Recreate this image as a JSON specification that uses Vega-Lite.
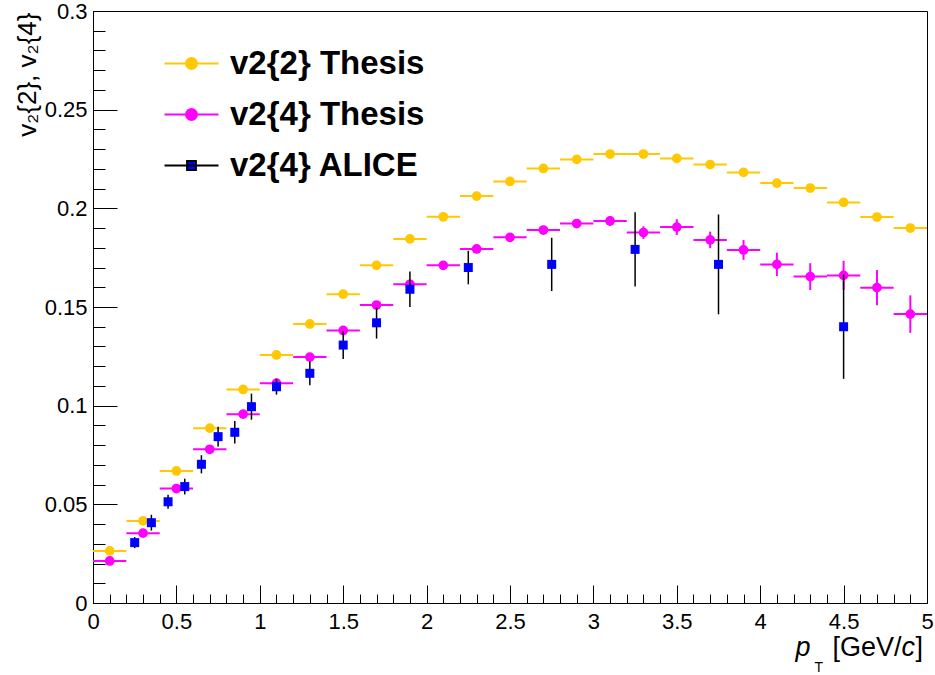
{
  "$schema": "https://vega.github.io/schema/vega-lite/v6.json",
  "width": 834,
  "height": 592,
  "autosize": "none",
  "padding": {"left": 93, "top": 11, "right": 8, "bottom": 72},
  "background": "white",
  "config": {
    "view": {"stroke": "black", "strokeWidth": 1},
    "font": "Liberation Sans",
    "axis": {"grid": false, "domainColor": "black", "tickColor": "black", "labelColor": "black", "titleColor": "black", "domainWidth": 1, "tickWidth": 1}
  },
  "data": {"values": [
    {"series": "v2{2} Thesis", "pt": 0.1, "v": 0.0264, "xlo": 0.0, "xhi": 0.2},
    {"series": "v2{2} Thesis", "pt": 0.3, "v": 0.0416, "xlo": 0.2, "xhi": 0.4},
    {"series": "v2{2} Thesis", "pt": 0.5, "v": 0.0669, "xlo": 0.4, "xhi": 0.6},
    {"series": "v2{2} Thesis", "pt": 0.7, "v": 0.0886, "xlo": 0.6, "xhi": 0.8},
    {"series": "v2{2} Thesis", "pt": 0.9, "v": 0.1082, "xlo": 0.8, "xhi": 1.0},
    {"series": "v2{2} Thesis", "pt": 1.1, "v": 0.1257, "xlo": 1.0, "xhi": 1.2},
    {"series": "v2{2} Thesis", "pt": 1.3, "v": 0.1414, "xlo": 1.2, "xhi": 1.4},
    {"series": "v2{2} Thesis", "pt": 1.5, "v": 0.1565, "xlo": 1.4, "xhi": 1.6},
    {"series": "v2{2} Thesis", "pt": 1.7, "v": 0.1711, "xlo": 1.6, "xhi": 1.8},
    {"series": "v2{2} Thesis", "pt": 1.9, "v": 0.1845, "xlo": 1.8, "xhi": 2.0},
    {"series": "v2{2} Thesis", "pt": 2.1, "v": 0.1957, "xlo": 2.0, "xhi": 2.2},
    {"series": "v2{2} Thesis", "pt": 2.3, "v": 0.2062, "xlo": 2.2, "xhi": 2.4},
    {"series": "v2{2} Thesis", "pt": 2.5, "v": 0.2136, "xlo": 2.4, "xhi": 2.6},
    {"series": "v2{2} Thesis", "pt": 2.7, "v": 0.2202, "xlo": 2.6, "xhi": 2.8},
    {"series": "v2{2} Thesis", "pt": 2.9, "v": 0.2248, "xlo": 2.8, "xhi": 3.0},
    {"series": "v2{2} Thesis", "pt": 3.1, "v": 0.2275, "xlo": 3.0, "xhi": 3.2},
    {"series": "v2{2} Thesis", "pt": 3.3, "v": 0.2275, "xlo": 3.2, "xhi": 3.4},
    {"series": "v2{2} Thesis", "pt": 3.5, "v": 0.2253, "xlo": 3.4, "xhi": 3.6},
    {"series": "v2{2} Thesis", "pt": 3.7, "v": 0.2222, "xlo": 3.6, "xhi": 3.8},
    {"series": "v2{2} Thesis", "pt": 3.9, "v": 0.2182, "xlo": 3.8, "xhi": 4.0},
    {"series": "v2{2} Thesis", "pt": 4.1, "v": 0.2128, "xlo": 4.0, "xhi": 4.2},
    {"series": "v2{2} Thesis", "pt": 4.3, "v": 0.2103, "xlo": 4.2, "xhi": 4.4},
    {"series": "v2{2} Thesis", "pt": 4.5, "v": 0.2030, "xlo": 4.4, "xhi": 4.6},
    {"series": "v2{2} Thesis", "pt": 4.7, "v": 0.1956, "xlo": 4.6, "xhi": 4.8},
    {"series": "v2{2} Thesis", "pt": 4.9, "v": 0.1900, "xlo": 4.8, "xhi": 5.0},
    {"series": "v2{4} Thesis", "pt": 0.1, "v": 0.0213, "xlo": 0.0, "xhi": 0.2, "ylo": 0.0205, "yhi": 0.0221},
    {"series": "v2{4} Thesis", "pt": 0.3, "v": 0.0354, "xlo": 0.2, "xhi": 0.4, "ylo": 0.0346, "yhi": 0.0362},
    {"series": "v2{4} Thesis", "pt": 0.5, "v": 0.0580, "xlo": 0.4, "xhi": 0.6, "ylo": 0.0571, "yhi": 0.0589},
    {"series": "v2{4} Thesis", "pt": 0.7, "v": 0.0779, "xlo": 0.6, "xhi": 0.8, "ylo": 0.0770, "yhi": 0.0788},
    {"series": "v2{4} Thesis", "pt": 0.9, "v": 0.0957, "xlo": 0.8, "xhi": 1.0, "ylo": 0.0947, "yhi": 0.0967},
    {"series": "v2{4} Thesis", "pt": 1.1, "v": 0.1114, "xlo": 1.0, "xhi": 1.2, "ylo": 0.1104, "yhi": 0.1124},
    {"series": "v2{4} Thesis", "pt": 1.3, "v": 0.1246, "xlo": 1.2, "xhi": 1.4, "ylo": 0.1235, "yhi": 0.1257},
    {"series": "v2{4} Thesis", "pt": 1.5, "v": 0.1381, "xlo": 1.4, "xhi": 1.6, "ylo": 0.1369, "yhi": 0.1393},
    {"series": "v2{4} Thesis", "pt": 1.7, "v": 0.1510, "xlo": 1.6, "xhi": 1.8, "ylo": 0.1497, "yhi": 0.1523},
    {"series": "v2{4} Thesis", "pt": 1.9, "v": 0.1615, "xlo": 1.8, "xhi": 2.0, "ylo": 0.1601, "yhi": 0.1629},
    {"series": "v2{4} Thesis", "pt": 2.1, "v": 0.1711, "xlo": 2.0, "xhi": 2.2, "ylo": 0.1696, "yhi": 0.1726},
    {"series": "v2{4} Thesis", "pt": 2.3, "v": 0.1794, "xlo": 2.2, "xhi": 2.4, "ylo": 0.1778, "yhi": 0.1810},
    {"series": "v2{4} Thesis", "pt": 2.5, "v": 0.1853, "xlo": 2.4, "xhi": 2.6, "ylo": 0.1835, "yhi": 0.1871},
    {"series": "v2{4} Thesis", "pt": 2.7, "v": 0.1890, "xlo": 2.6, "xhi": 2.8, "ylo": 0.1870, "yhi": 0.1910},
    {"series": "v2{4} Thesis", "pt": 2.9, "v": 0.1923, "xlo": 2.8, "xhi": 3.0, "ylo": 0.1901, "yhi": 0.1945},
    {"series": "v2{4} Thesis", "pt": 3.1, "v": 0.1936, "xlo": 3.0, "xhi": 3.2, "ylo": 0.1911, "yhi": 0.1961},
    {"series": "v2{4} Thesis", "pt": 3.3, "v": 0.1877, "xlo": 3.2, "xhi": 3.4, "ylo": 0.1845, "yhi": 0.1909},
    {"series": "v2{4} Thesis", "pt": 3.5, "v": 0.1905, "xlo": 3.4, "xhi": 3.6, "ylo": 0.1865, "yhi": 0.1945},
    {"series": "v2{4} Thesis", "pt": 3.7, "v": 0.1840, "xlo": 3.6, "xhi": 3.8, "ylo": 0.1798, "yhi": 0.1882},
    {"series": "v2{4} Thesis", "pt": 3.9, "v": 0.1789, "xlo": 3.8, "xhi": 4.0, "ylo": 0.1739, "yhi": 0.1839},
    {"series": "v2{4} Thesis", "pt": 4.1, "v": 0.1716, "xlo": 4.0, "xhi": 4.2, "ylo": 0.1657, "yhi": 0.1775},
    {"series": "v2{4} Thesis", "pt": 4.3, "v": 0.1654, "xlo": 4.2, "xhi": 4.4, "ylo": 0.1586, "yhi": 0.1722},
    {"series": "v2{4} Thesis", "pt": 4.5, "v": 0.1660, "xlo": 4.4, "xhi": 4.6, "ylo": 0.1586, "yhi": 0.1734},
    {"series": "v2{4} Thesis", "pt": 4.7, "v": 0.1598, "xlo": 4.6, "xhi": 4.8, "ylo": 0.1509, "yhi": 0.1687},
    {"series": "v2{4} Thesis", "pt": 4.9, "v": 0.1464, "xlo": 4.8, "xhi": 5.0, "ylo": 0.1369, "yhi": 0.1559},
    {"series": "v2{4} ALICE", "pt": 0.25, "v": 0.0306, "ylo": 0.0278, "yhi": 0.0334},
    {"series": "v2{4} ALICE", "pt": 0.35, "v": 0.0407, "ylo": 0.0367, "yhi": 0.0447},
    {"series": "v2{4} ALICE", "pt": 0.45, "v": 0.0513, "ylo": 0.0477, "yhi": 0.0549},
    {"series": "v2{4} ALICE", "pt": 0.55, "v": 0.0590, "ylo": 0.0550, "yhi": 0.0630},
    {"series": "v2{4} ALICE", "pt": 0.65, "v": 0.0703, "ylo": 0.0657, "yhi": 0.0749},
    {"series": "v2{4} ALICE", "pt": 0.75, "v": 0.0843, "ylo": 0.0793, "yhi": 0.0893},
    {"series": "v2{4} ALICE", "pt": 0.85, "v": 0.0865, "ylo": 0.0808, "yhi": 0.0922},
    {"series": "v2{4} ALICE", "pt": 0.95, "v": 0.0995, "ylo": 0.0929, "yhi": 0.1061},
    {"series": "v2{4} ALICE", "pt": 1.1, "v": 0.1096, "ylo": 0.1056, "yhi": 0.1136},
    {"series": "v2{4} ALICE", "pt": 1.3, "v": 0.1164, "ylo": 0.1104, "yhi": 0.1224},
    {"series": "v2{4} ALICE", "pt": 1.5, "v": 0.1307, "ylo": 0.1237, "yhi": 0.1377},
    {"series": "v2{4} ALICE", "pt": 1.7, "v": 0.1420, "ylo": 0.1340, "yhi": 0.1500},
    {"series": "v2{4} ALICE", "pt": 1.9, "v": 0.1590, "ylo": 0.1500, "yhi": 0.1680},
    {"series": "v2{4} ALICE", "pt": 2.25, "v": 0.1700, "ylo": 0.1615, "yhi": 0.1785},
    {"series": "v2{4} ALICE", "pt": 2.75, "v": 0.1716, "ylo": 0.1581, "yhi": 0.1851},
    {"series": "v2{4} ALICE", "pt": 3.25, "v": 0.1792, "ylo": 0.1604, "yhi": 0.1980},
    {"series": "v2{4} ALICE", "pt": 3.75, "v": 0.1716, "ylo": 0.1463, "yhi": 0.1969},
    {"series": "v2{4} ALICE", "pt": 4.5, "v": 0.1400, "ylo": 0.1136, "yhi": 0.1664}
  ]},
  "resolve": {"axis": {"x": "independent", "y": "independent"}},
  "layer": [
    {
      "transform": [{"filter": "datum.series === 'v2{2} Thesis'"}],
      "mark": {"type": "rule", "color": "#ffc800", "strokeWidth": 2},
      "encoding": {
        "x": {"field": "xlo", "type": "quantitative", "scale": {"domain": [0, 5], "nice": false, "zero": false},
          "axis": {"orient": "bottom", "values": [0, 0.5, 1, 1.5, 2, 2.5, 3, 3.5, 4, 4.5, 5], "format": "~g", "tickSize": -18, "labelPadding": 26, "labelFontSize": 22, "labelFont": "Liberation Sans", "labelFlush": false, "labelOverlap": false, "labelBaseline": "top", "title": null}},
        "x2": {"field": "xhi"},
        "y": {"field": "v", "type": "quantitative", "scale": {"domain": [0, 0.3], "nice": false, "zero": false},
          "axis": {"orient": "left", "values": [0, 0.05, 0.1, 0.15, 0.2, 0.25, 0.3], "format": "~g", "tickSize": -24, "labelPadding": 30, "labelFontSize": 22, "labelFont": "Liberation Sans", "labelFlush": false, "labelOverlap": false,
            "title": "v\u2082{2}, v\u2082{4}", "titleFont": "Liberation Sans", "titleFontSize": 26, "titleFontWeight": "normal", "titleX": -58, "titleY": 1, "titleAngle": -90, "titleAlign": "right", "titleBaseline": "alphabetic"}}
      }
    },
    {
      "transform": [{"filter": "datum.series === 'v2{2} Thesis'"}],
      "mark": {"type": "circle", "color": "#ffc800", "size": 95, "opacity": 1},
      "encoding": {
        "x": {"field": "pt", "type": "quantitative", "scale": {"domain": [0, 5], "nice": false, "zero": false},
          "axis": {"orient": "bottom", "values": [0.1, 0.2, 0.3, 0.4, 0.6, 0.7, 0.8, 0.9, 1.1, 1.2, 1.3, 1.4, 1.6, 1.7, 1.8, 1.9, 2.1, 2.2, 2.3, 2.4, 2.6, 2.7, 2.8, 2.9, 3.1, 3.2, 3.3, 3.4, 3.6, 3.7, 3.8, 3.9, 4.1, 4.2, 4.3, 4.4, 4.6, 4.7, 4.8, 4.9], "tickSize": -9, "labels": false, "domain": false, "title": null}},
        "y": {"field": "v", "type": "quantitative", "scale": {"domain": [0, 0.3], "nice": false, "zero": false},
          "axis": {"orient": "left", "values": [0.01, 0.02, 0.03, 0.04, 0.06, 0.07, 0.08, 0.09, 0.11, 0.12, 0.13, 0.14, 0.16, 0.17, 0.18, 0.19, 0.21, 0.22, 0.23, 0.24, 0.26, 0.27, 0.28, 0.29], "tickSize": -12, "labels": false, "domain": false, "title": null}}
      }
    },
    {
      "transform": [{"filter": "datum.series === 'v2{4} Thesis'"}],
      "mark": {"type": "rule", "color": "#ff00ff", "strokeWidth": 2},
      "encoding": {
        "x": {"field": "xlo", "type": "quantitative", "scale": {"domain": [0, 5], "nice": false, "zero": false},
          "axis": {"orient": "bottom", "ticks": false, "labels": false, "domain": false, "title": "p", "titleFont": "Liberation Sans", "titleFontSize": 27, "titleFontStyle": "italic", "titleFontWeight": "normal", "titleX": 702, "titleY": 52, "titleAlign": "left", "titleBaseline": "alphabetic", "titleAngle": 0}},
        "x2": {"field": "xhi"},
        "y": {"field": "v", "type": "quantitative", "scale": {"domain": [0, 0.3], "nice": false, "zero": false}, "axis": null}
      }
    },
    {
      "transform": [{"filter": "datum.series === 'v2{4} Thesis'"}],
      "mark": {"type": "rule", "color": "#ff00ff", "strokeWidth": 2},
      "encoding": {
        "x": {"field": "pt", "type": "quantitative", "scale": {"domain": [0, 5], "nice": false, "zero": false},
          "axis": {"orient": "bottom", "ticks": false, "labels": false, "domain": false, "title": "T", "titleFont": "Liberation Sans", "titleFontSize": 14, "titleFontWeight": "normal", "titleX": 721, "titleY": 68, "titleAlign": "left", "titleBaseline": "alphabetic", "titleAngle": 0}},
        "y": {"field": "ylo", "type": "quantitative", "scale": {"domain": [0, 0.3], "nice": false, "zero": false}, "axis": null},
        "y2": {"field": "yhi"}
      }
    },
    {
      "transform": [{"filter": "datum.series === 'v2{4} Thesis'"}],
      "mark": {"type": "circle", "color": "#ff00ff", "size": 95, "opacity": 1},
      "encoding": {
        "x": {"field": "pt", "type": "quantitative", "scale": {"domain": [0, 5], "nice": false, "zero": false},
          "axis": {"orient": "bottom", "ticks": false, "labels": false, "domain": false, "title": "[GeV/", "titleFont": "Liberation Sans", "titleFontSize": 27, "titleFontWeight": "normal", "titleX": 739, "titleY": 52, "titleAlign": "left", "titleBaseline": "alphabetic", "titleAngle": 0}},
        "y": {"field": "v", "type": "quantitative", "scale": {"domain": [0, 0.3], "nice": false, "zero": false}, "axis": null}
      }
    },
    {
      "transform": [{"filter": "datum.series === 'v2{4} ALICE'"}],
      "mark": {"type": "rule", "color": "black", "strokeWidth": 1.5},
      "encoding": {
        "x": {"field": "pt", "type": "quantitative", "scale": {"domain": [0, 5], "nice": false, "zero": false},
          "axis": {"orient": "bottom", "ticks": false, "labels": false, "domain": false, "title": "c", "titleFont": "Liberation Sans", "titleFontSize": 27, "titleFontStyle": "italic", "titleFontWeight": "normal", "titleX": 808, "titleY": 52, "titleAlign": "left", "titleBaseline": "alphabetic", "titleAngle": 0}},
        "y": {"field": "ylo", "type": "quantitative", "scale": {"domain": [0, 0.3], "nice": false, "zero": false}, "axis": null},
        "y2": {"field": "yhi"}
      }
    },
    {
      "transform": [{"filter": "datum.series === 'v2{4} ALICE'"}],
      "mark": {"type": "square", "color": "#0000ff", "size": 81, "opacity": 1},
      "encoding": {
        "x": {"field": "pt", "type": "quantitative", "scale": {"domain": [0, 5], "nice": false, "zero": false},
          "axis": {"orient": "bottom", "ticks": false, "labels": false, "domain": false, "title": "]", "titleFont": "Liberation Sans", "titleFontSize": 27, "titleFontWeight": "normal", "titleX": 822, "titleY": 52, "titleAlign": "left", "titleBaseline": "alphabetic", "titleAngle": 0}},
        "y": {"field": "v", "type": "quantitative", "scale": {"domain": [0, 0.3], "nice": false, "zero": false}, "axis": null}
      }
    },
    {
      "mark": {"type": "point", "filled": true, "opacity": 0},
      "encoding": {
        "x": {"field": "pt", "type": "quantitative", "scale": {"domain": [0, 5], "nice": false, "zero": false}, "axis": null},
        "y": {"field": "v", "type": "quantitative", "scale": {"domain": [0, 0.3], "nice": false, "zero": false}, "axis": null},
        "fill": {"field": "series", "type": "nominal",
          "scale": {"domain": ["v2{2} Thesis", "v2{4} Thesis", "v2{4} ALICE"], "range": ["#ffc800", "#ff00ff", "#0000ff"]},
          "legend": {"orient": "none", "legendX": 82, "legendY": 36, "title": null, "symbolSize": 900, "symbolStrokeWidth": 1.8, "symbolOpacity": 1, "labelFont": "Liberation Sans", "labelFontSize": 33, "labelFontWeight": "bold", "labelColor": "black", "labelOffset": 22, "rowPadding": 17, "padding": 0, "labelLimit": 400}},
        "stroke": {"field": "series", "type": "nominal",
          "scale": {"domain": ["v2{2} Thesis", "v2{4} Thesis", "v2{4} ALICE"], "range": ["#ffc800", "#ff00ff", "#000000"]},
          "legend": {"orient": "none", "legendX": 82, "legendY": 36, "title": null, "symbolSize": 900, "symbolStrokeWidth": 1.8, "symbolOpacity": 1, "labelFont": "Liberation Sans", "labelFontSize": 33, "labelFontWeight": "bold", "labelColor": "black", "labelOffset": 22, "rowPadding": 17, "padding": 0, "labelLimit": 400}},
        "shape": {"field": "series", "type": "nominal",
          "scale": {"domain": ["v2{2} Thesis", "v2{4} Thesis", "v2{4} ALICE"], "range": ["M-1.8,0H1.8M0.37,0A0.37,0.37,0,1,1,-0.37,0A0.37,0.37,0,1,1,0.37,0Z", "M-1.8,0H1.8M0.37,0A0.37,0.37,0,1,1,-0.37,0A0.37,0.37,0,1,1,0.37,0Z", "M-1.8,0H1.8M-0.3,-0.3H0.3V0.3H-0.3Z"]},
          "legend": {"orient": "none", "legendX": 82, "legendY": 36, "title": null, "symbolSize": 900, "symbolStrokeWidth": 1.8, "symbolOpacity": 1, "labelFont": "Liberation Sans", "labelFontSize": 33, "labelFontWeight": "bold", "labelColor": "black", "labelOffset": 22, "rowPadding": 17, "padding": 0, "labelLimit": 400}}
      }
    }
  ]
}
